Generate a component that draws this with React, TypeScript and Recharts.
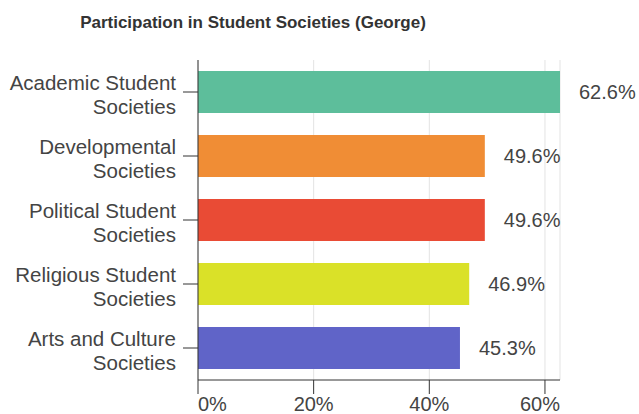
import { BarChart, Bar, XAxis, YAxis, CartesianGrid, Cell, LabelList } from "recharts";

const categories = [
  "Academic Student Societies",
  "Developmental Societies",
  "Political Student Societies",
  "Religious Student Societies",
  "Arts and Culture Societies",
];
const shares = [0.626, 0.496, 0.496, 0.469, 0.453];
const barColors = ["#5dbe9b", "#f08d35", "#e94b35", "#dae128", "#6064c8"];
const xTicks = [0, 0.2, 0.4, 0.6];

const data = categories.map((name, i) => ({ name, value: shares[i] }));

const FONT = "'Liberation Sans', Arial, Helvetica, sans-serif";
const TEXT = "#444444";
const PLOT_LEFT = 198;
const PLOT_RIGHT = 560;

const pct = (v: number, digits = 0) => `${(v * 100).toFixed(digits)}%`;

// eslint-disable-next-line @typescript-eslint/no-explicit-any
function CategoryTick({ x, y, payload }: any) {
  const words = String(payload.value).split(" ");
  const last = words.pop();
  const lines = [words.join(" "), last];
  return (
    <text x={x} y={y} textAnchor="end" fill={TEXT} fontSize={20.5} fontFamily={FONT}>
      <tspan x={x} dy={-2}>{lines[0]}</tspan>
      <tspan x={x} dy={24}>{lines[1]}</tspan>
    </text>
  );
}

// keep tick labels inside the axis range, like the original
// eslint-disable-next-line @typescript-eslint/no-explicit-any
function PercentTick({ x, y, payload }: any) {
  const label = pct(payload.value);
  const w = label.length * 0.6 * 20;
  let anchor: "start" | "middle" | "end" = "middle";
  let tx = x;
  if (x - w / 2 < PLOT_LEFT) {
    anchor = "start";
    tx = PLOT_LEFT;
  } else if (x + w / 2 > PLOT_RIGHT) {
    anchor = "end";
    tx = PLOT_RIGHT;
  }
  return (
    <text x={tx} y={y} dy="0.71em" textAnchor={anchor} fill={TEXT} fontSize={20} fontFamily={FONT}>
      {label}
    </text>
  );
}

export default function App() {
  return (
    <div style={{ position: "absolute", left: 0, top: 0, width: 639, height: 414, background: "#fff" }}>
      <div
        style={{
          position: "absolute",
          left: 253 - 200,
          width: 400,
          top: 13,
          textAlign: "center",
          fontFamily: FONT,
          fontWeight: "bold",
          fontSize: 17,
          color: "#333",
        }}
      >
        Participation in Student Societies (George)
      </div>
      <BarChart
        width={639}
        height={414}
        data={data}
        layout="vertical"
        margin={{ top: 60, right: 639 - PLOT_RIGHT, bottom: 0, left: 0 }}
        barSize={42}
      >
        <CartesianGrid horizontal={false} stroke="#e3e3e3" />
        <XAxis
          type="number"
          domain={[0, "dataMax"]}
          ticks={xTicks}
          height={34}
          tickSize={14}
          tickMargin={3}
          stroke="#333"
          tick={<PercentTick />}
          allowDataOverflow
        />
        <YAxis
          type="category"
          dataKey="name"
          width={PLOT_LEFT}
          tickSize={15}
          tickMargin={7}
          stroke="#333"
          tick={<CategoryTick />}
          interval={0}
        />
        <Bar dataKey="value" isAnimationActive={false}>
          {data.map((_, i) => (
            <Cell key={i} fill={barColors[i]} />
          ))}
          <LabelList
            dataKey="value"
            position="right"
            offset={19}
            formatter={(v: number) => pct(v, 1)}
            fill={TEXT}
            fontSize={20}
            fontFamily={FONT}
          />
        </Bar>
      </BarChart>
    </div>
  );
}
